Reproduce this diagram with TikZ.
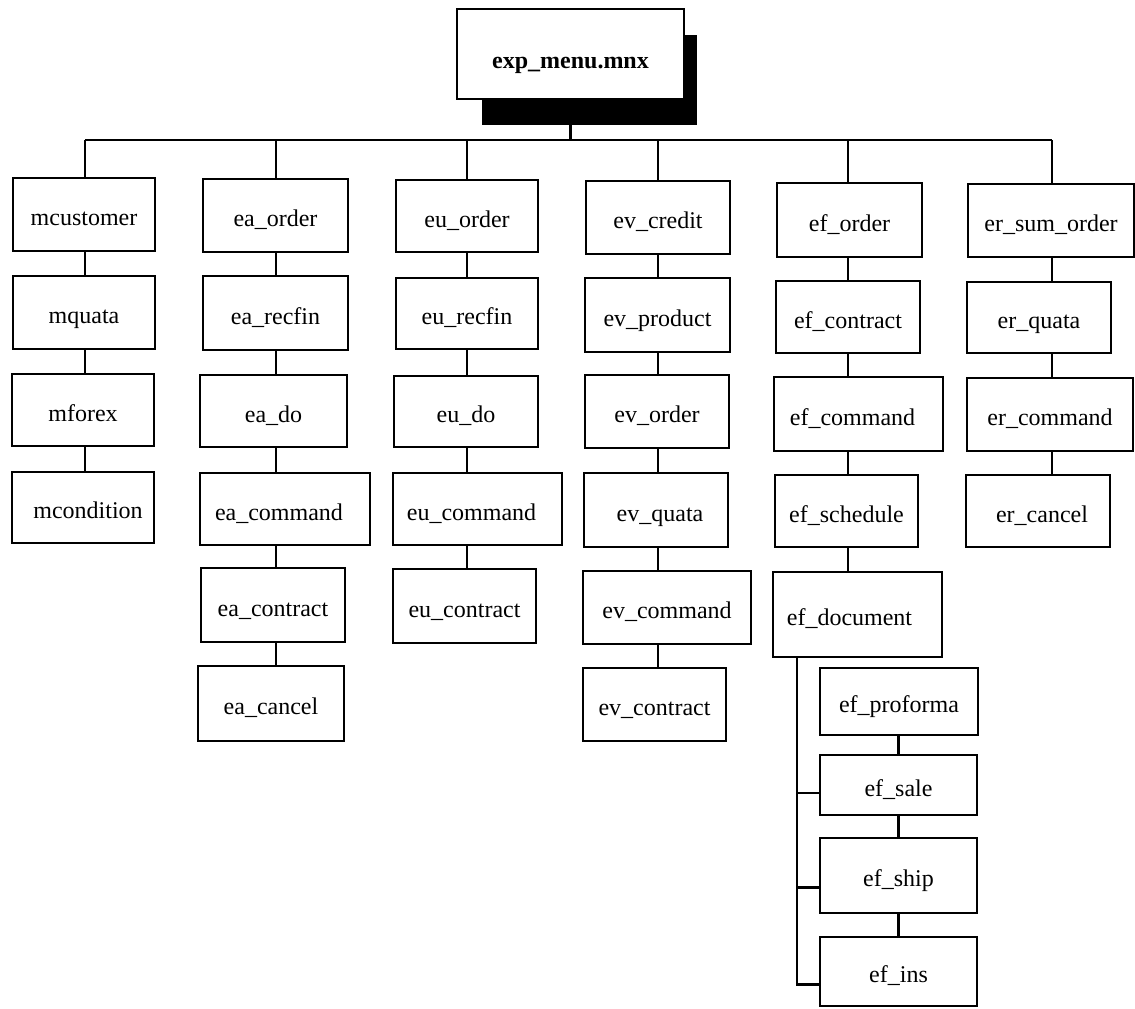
\documentclass[tikz,border=0pt]{standalone}
\usepackage{fontspec}
\setmainfont{Liberation Serif}
\usetikzlibrary{calc}

\tikzset{
  menubox/.style={draw, line width=2.2pt, fill=white, inner sep=0pt,
    text height=22pt, text depth=0pt,
    font=\fontsize{24}{28}\selectfont},
  link/.style={line width=2.2pt},
}

% \menunode[extra]{name}{x1}{y1}{x2}{y2}{label}: box given by its corners (y grows downwards)
\newcommand\menunode[7][]{%
  \pgfmathsetmacro\mcx{(#3+#5)/2}%
  \pgfmathsetmacro\mcy{(#4+#6)/2}%
  \pgfmathsetmacro\mw{#5-#3}%
  \pgfmathsetmacro\mh{#6-#4}%
  \node[menubox, minimum width=\mw pt, minimum height=\mh pt, #1] (#2) at (\mcx,\mcy) {#7};%
}

\begin{document}
\begin{tikzpicture}[x=1pt, y=-1pt]
\fill[white] (0,0) rectangle (1135,1009);
\useasboundingbox (0,0) rectangle (1135,1009);

% main menu with its drop shadow
\node[fill=black, inner sep=0pt, minimum width=215pt, minimum height=90pt] (rootshadow) at (589.5,80) {};
\menunode[text height=29pt]{root}{457}{9}{684}{99}{\bfseries exp\_menu.mnx}

% bus feeding the six sub-menus
\coordinate (b1) at (85,140);
\coordinate (b2) at (276,140);
\coordinate (b3) at (467,140);
\coordinate (b4) at (658,140);
\coordinate (b5) at (848,140);
\coordinate (b6) at (1052,140);

% column 1
\menunode{mcustomer}{13}{178}{155}{251}{mcustomer}
\menunode{mquata}{13}{276}{155}{349}{mquata}
\menunode{mforex}{12}{374}{154}{446}{mforex}
\menunode{mcondition}{12}{472}{154}{543}{\hspace*{10pt}mcondition}

% column 2
\menunode{eaorder}{203}{179}{348}{252}{ea\_order}
\menunode{earecfin}{203}{276}{348}{350}{ea\_recfin}
\menunode{eado}{200}{375}{347}{447}{ea\_do}
\menunode{eacommand}{200}{473}{370}{545}{ea\_command\hspace*{12pt}}
\menunode{eacontract}{201}{568}{345}{642}{ea\_contract}
\menunode{eacancel}{198}{666}{344}{741}{ea\_cancel}

% column 3
\menunode{euorder}{396}{180}{538}{252}{eu\_order}
\menunode{eurecfin}{396}{278}{538}{349}{eu\_recfin}
\menunode{eudo}{394}{376}{538}{447}{eu\_do}
\menunode{eucommand}{393}{473}{562}{545}{eu\_command\hspace*{12pt}}
\menunode{eucontract}{393}{569}{536}{643}{eu\_contract}

% column 4
\menunode{evcredit}{586}{181}{730}{254}{ev\_credit}
\menunode{evproduct}{585}{278}{730}{352}{ev\_product}
\menunode{evorder}{585}{375}{729}{448}{ev\_order}
\menunode{evquata}{584}{473}{728}{547}{\hspace*{8pt}ev\_quata}
\menunode{evcommand}{583}{571}{751}{644}{ev\_command}
\menunode{evcontract}{583}{668}{726}{741}{ev\_contract}

% column 5
\menunode{eforder}{777}{183}{922}{257}{ef\_order}
\menunode{efcontract}{776}{281}{920}{353}{ef\_contract}
\menunode{efcommand}{774}{377}{943}{451}{ef\_command\hspace*{12pt}}
\menunode{efschedule}{775}{475}{918}{547}{ef\_schedule}
\menunode{efdocument}{773}{572}{942}{657}{ef\_document\hspace*{16pt}}
\menunode{efproforma}{820}{668}{978}{735}{ef\_proforma}
\menunode{efsale}{820}{755}{977}{815}{ef\_sale}
\menunode{efship}{820}{838}{977}{913}{ef\_ship}
\menunode{efins}{820}{937}{977}{1006}{ef\_ins}

% column 6
\menunode{ersumorder}{968}{184}{1134}{257}{er\_sum\_order}
\menunode{erquata}{967}{282}{1111}{353}{er\_quata}
\menunode{ercommand}{967}{378}{1133}{451}{er\_command}
\menunode{ercancel}{966}{475}{1110}{547}{\hspace*{8pt}er\_cancel}

% trunk and bus
\draw[link] (root.south |- rootshadow.south) -- (root.south |- b1);
\draw[link] (b1) -- (b6);
\foreach \c/\n in {b1/mcustomer, b2/eaorder, b3/euorder, b4/evcredit, b5/eforder, b6/ersumorder}
  \draw[link] (\c) -- (\n.north -| \c);

% chains inside each column
\foreach \c/\a/\b in {
  b1/mcustomer/mquata, b1/mquata/mforex, b1/mforex/mcondition,
  b2/eaorder/earecfin, b2/earecfin/eado, b2/eado/eacommand,
  b2/eacommand/eacontract, b2/eacontract/eacancel,
  b3/euorder/eurecfin, b3/eurecfin/eudo, b3/eudo/eucommand, b3/eucommand/eucontract,
  b4/evcredit/evproduct, b4/evproduct/evorder, b4/evorder/evquata,
  b4/evquata/evcommand, b4/evcommand/evcontract,
  b5/eforder/efcontract, b5/efcontract/efcommand, b5/efcommand/efschedule,
  b5/efschedule/efdocument,
  b6/ersumorder/erquata, b6/erquata/ercommand, b6/ercommand/ercancel}
  \draw[link] (\a.south -| \c) -- (\b.north -| \c);

% document sub-menus
\coordinate (dbus) at (797,657);
\draw[link] (efproforma.south -| efsale.north) -- (efsale.north);
\draw[link] (efsale.south) -- (efship.north);
\draw[link] (efship.south) -- (efins.north);
\draw[link] (efdocument.south -| dbus) -- ($(dbus |- efins.west)+(0,13)$) -- ($(efins.west)+(0,13)$);
\draw[link] ($(dbus |- efsale.west)+(0,8)$) -- ($(efsale.west)+(0,8)$);
\draw[link] ($(dbus |- efship.west)+(0,12)$) -- ($(efship.west)+(0,12)$);
\end{tikzpicture}
\end{document}
